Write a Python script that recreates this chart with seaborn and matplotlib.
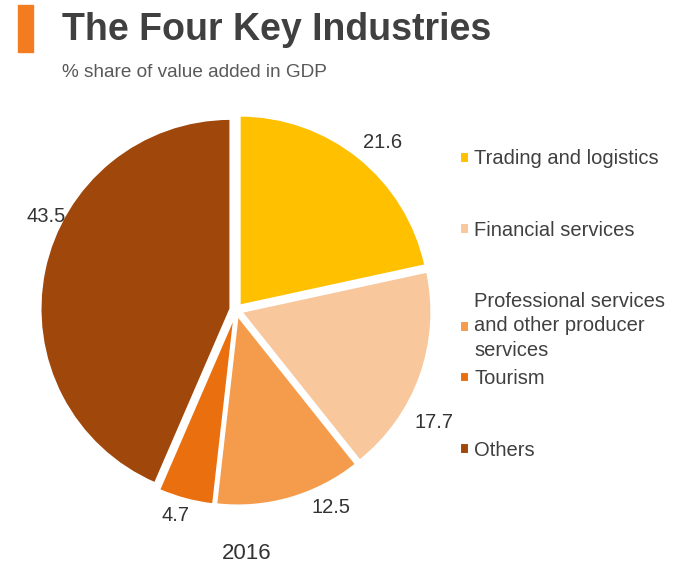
import matplotlib
matplotlib.use("Agg")
import matplotlib.pyplot as plt
import seaborn as sns
from matplotlib.patches import Rectangle

sns.set_theme(style="white")
plt.rcParams['font.family'] = ['Liberation Sans', 'DejaVu Sans']

# data
categories = ["Trading and logistics", "Financial services",
              "Professional services\nand other producer\nservices",
              "Tourism", "Others"]
shares = [21.6, 17.7, 12.5, 4.7, 43.5]
colors = ["#FFC000", "#F8C79C", "#F59B4C", "#EA700F", "#A0480C"]
year = "2016"

# where the value labels sit (pie radius = 1)
label_xy = [(0.77, 0.88), (1.04, -0.59), (0.50, -1.04), (-0.32, -1.08), (-1.0, 0.49)]

fig = plt.figure(figsize=(6.75, 5.68), dpi=100)
ax = fig.add_axes([0.0119, 0.0528, 0.6756, 0.8028])

wedges, texts = ax.pie(
    shares,
    colors=colors,
    labels=[f"{v:.1f}" for v in shares],
    startangle=90,
    counterclock=False,
    explode=[0.03] * len(shares),
    wedgeprops=dict(edgecolor="white", linewidth=1.5),
    textprops=dict(fontsize=14.5, color="#333333"),
)
for t, xy in zip(texts, label_xy):
    t.set_position(xy)
    t.set_ha("center")
    t.set_va("center")
ax.set_xlim(-1.2, 1.2)
ax.set_ylim(-1.2, 1.2)
ax.set_aspect("equal")

leg_kw = dict(loc="upper left", frameon=False, fontsize=14.5,
              handlelength=0.45, handleheight=0.45, handletextpad=0.25,
              labelspacing=2.6, borderaxespad=0, borderpad=0)
leg1 = fig.legend(wedges[:3], categories[:3], bbox_to_anchor=(0.682, 0.737), **leg_kw)
leg2 = fig.legend(wedges[3:], categories[3:], bbox_to_anchor=(0.682, 0.350), **leg_kw)
for leg in (leg1, leg2):
    for t in leg.get_texts():
        t.set_color("#404040")
        t.set_linespacing(1.35)

# title block
fig.patches.append(Rectangle((0.027, 0.908), 0.022, 0.083,
                             transform=fig.transFigure, color="#F47C20"))
fig.text(0.092, 0.948, "The Four Key Industries", fontsize=27,
         fontweight="bold", color="#404040", va="center", ha="left")
fig.text(0.092, 0.873, "% share of value added in GDP", fontsize=13.7,
         color="#595959", va="center", ha="left")
fig.text(0.366, 0.026, year, fontsize=16, color="#333333",
         ha="center", va="center")

fig.savefig("out.png", dpi=100)
